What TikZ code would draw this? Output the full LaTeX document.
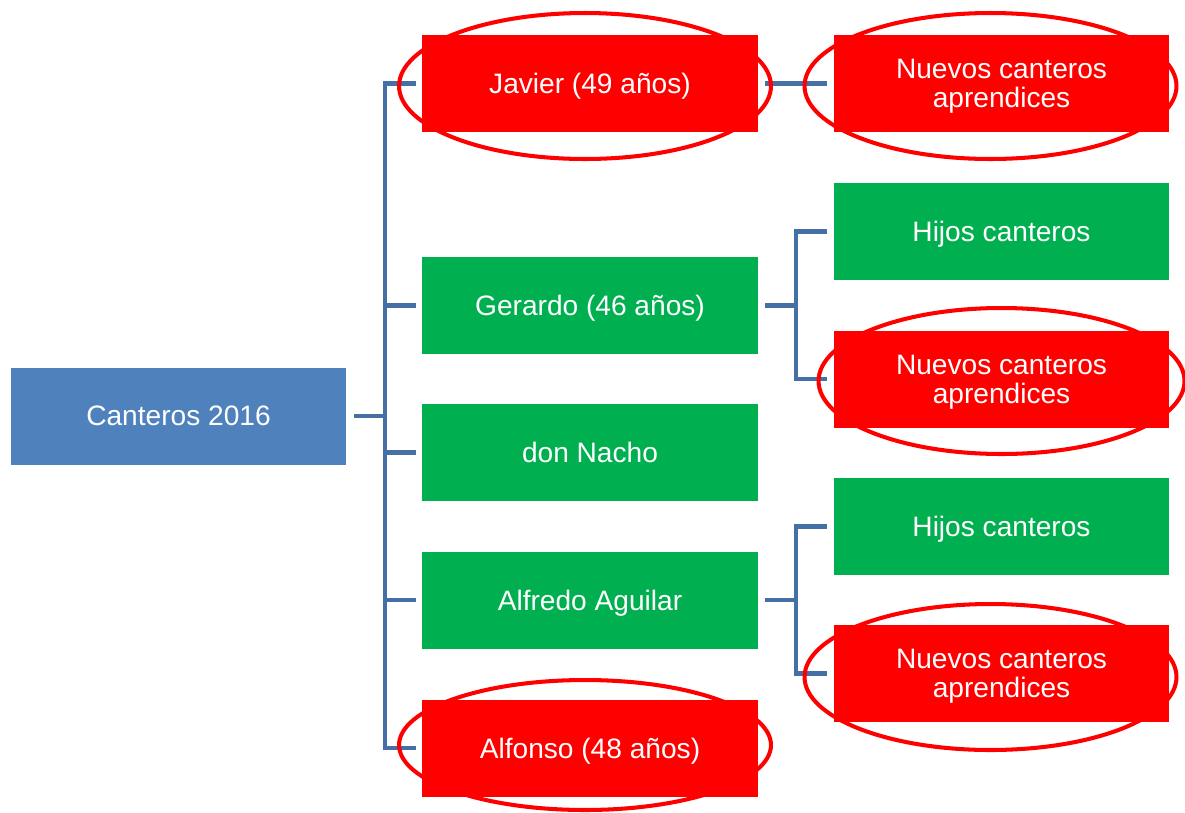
\documentclass[tikz,border=0pt]{standalone}
\usepackage{fontspec}
\setmainfont{Liberation Sans}
\definecolor{rootblue}{HTML}{4F81BD}
\definecolor{leafgreen}{HTML}{00B050}
\definecolor{linkblue}{HTML}{4570A6}
\begin{document}
\begin{tikzpicture}[x=0.02cm, y=-0.02cm,
  box/.style={minimum width=6.72cm, minimum height=1.94cm, inner sep=0pt,
    text depth=0pt, text=white, align=center, font=\fontsize{16}{16.5}\selectfont},
  conn/.style={draw=linkblue, line width=2.3pt},
  ring/.style={draw=red, line width=2.3pt}]

\useasboundingbox (0,0) rectangle (1185,812);

\node[box, fill=rootblue] (root) at (178.5,416) {Canteros 2016};

\node[box, fill=red] (javier) at (590,83.5) {Javier (49 años)};
\node[box, fill=leafgreen] (gerardo) at (590,305.5) {Gerardo (46 años)};
\node[box, fill=leafgreen] (nacho) at (590,452.5) {don Nacho};
\node[box, fill=leafgreen] (alfredo) at (590,600) {Alfredo Aguilar};
\node[box, fill=red] (alfonso) at (590,748) {Alfonso (48 años)};

\node[box, fill=red] (nuevosA) at (1001.5,83.5) {Nuevos canteros\\aprendices};
\node[box, fill=leafgreen] (hijosB) at (1001.5,231.5) {Hijos canteros};
\node[box, fill=red] (nuevosB) at (1001.5,379) {Nuevos canteros\\aprendices};
\node[box, fill=leafgreen] (hijosC) at (1001.5,526.5) {Hijos canteros};
\node[box, fill=red] (nuevosC) at (1001.5,673.5) {Nuevos canteros\\aprendices};

\coordinate (trunk) at (385,416);
\coordinate (forkB) at (796,305.5);
\coordinate (forkC) at (796,600);

% tree lines
\draw[conn] ([xshift=0.14cm]root.east) -- (trunk);
\draw[conn] (trunk) |- ([xshift=-0.12cm]javier.west);
\draw[conn] (trunk) |- ([xshift=-0.12cm]gerardo.west);
\draw[conn] (trunk) |- ([xshift=-0.12cm]nacho.west);
\draw[conn] (trunk) |- ([xshift=-0.12cm]alfredo.west);
\draw[conn] (trunk) |- ([xshift=-0.12cm]alfonso.west);

\draw[conn] ([xshift=0.14cm]javier.east) -- ([xshift=-0.12cm]nuevosA.west);
\draw[conn] ([xshift=0.14cm]gerardo.east) -- (forkB);
\draw[conn] (forkB) |- ([xshift=-0.12cm]hijosB.west);
\draw[conn] (forkB) |- ([xshift=-0.12cm]nuevosB.west);
\draw[conn] ([xshift=0.14cm]alfredo.east) -- (forkC);
\draw[conn] (forkC) |- ([xshift=-0.12cm]hijosC.west);
\draw[conn] (forkC) |- ([xshift=-0.12cm]nuevosC.west);

% red rings
\draw[ring] (javier.center) ++(-5,2.5) ellipse (3.72cm and 1.46cm);
\draw[ring] (nuevosA.center) ++(-11,2.5) ellipse (3.72cm and 1.46cm);
\draw[ring] (nuevosB.center) ++(0,2) ellipse (3.66cm and 1.46cm);
\draw[ring] (nuevosC.center) ++(-11,3.5) ellipse (3.72cm and 1.46cm);
\draw[ring] (alfonso.center) ++(-5,-3) ellipse (3.72cm and 1.3cm);

\end{tikzpicture}
\end{document}
